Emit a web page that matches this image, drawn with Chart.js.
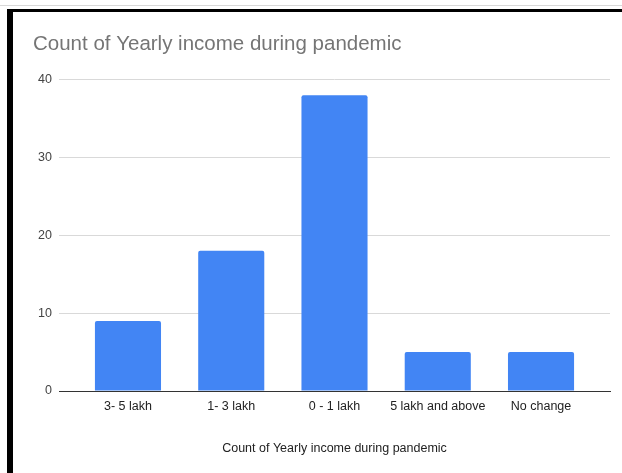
<!DOCTYPE html>
<html>
<head>
<meta charset="utf-8">
<script src="https://cdn.jsdelivr.net/npm/chart.js@4"></script>
<style>
  html, body { margin: 0; padding: 0; background: #fff; }
  body { width: 622px; height: 473px; position: relative; overflow: hidden; }
  #topline { position: absolute; left: 0; top: 5px; width: 622px; height: 1px; background: #d8d8d8; }
  #frame { position: absolute; left: 7px; top: 9px; width: 615px; height: 464px;
           border-top: 3px solid #000; border-left: 6px solid #000; box-sizing: border-box; }
  #wrap { position: absolute; left: 13px; top: 12px; width: 609px; height: 461px; }
</style>
</head>
<body>
<div id="topline"></div>
<div id="frame"></div>
<div id="wrap"><canvas id="barchart"></canvas></div>
<script>
const categories = ['3- 5 lakh', '1- 3 lakh', '0 - 1 lakh', '5 lakh and above', 'No change'];
const counts = [9, 18, 38, 5, 5];
const yTicks = [0, 10, 20, 30, 40];

const font = { family: 'Liberation Sans, Arial, sans-serif', size: 12.5 };

const ctx = document.getElementById('barchart');
const barchart = new Chart(ctx, {
  type: 'bar',
  data: {
    datasets: [{
      label: 'Count of Yearly income during pandemic',
      data: counts.map((v, i) => ({ x: i, y: v })),
      backgroundColor: '#4285f4',
      borderRadius: { topLeft: 2, topRight: 2 },
      borderSkipped: 'bottom',
      barPercentage: 0.64,
      categoryPercentage: 1
    }]
  },
  options: {
    responsive: true,
    maintainAspectRatio: false,
    animation: false,
    layout: { padding: { left: 20, right: 12, top: 0, bottom: 7 } },
    plugins: {
      legend: { display: false },
      tooltip: { enabled: false },
      title: {
        display: true,
        text: 'Count of Yearly income during pandemic',
        align: 'start',
        color: '#757575',
        font: { family: 'Liberation Sans, Arial, sans-serif', size: 20.5, weight: 'normal' },
        padding: { top: 20, bottom: 23 }
      }
    },
    scales: {
      x: {
        type: 'linear',
        offset: false,
        min: -0.668,
        max: categories.length - 1 + 0.668,
        afterBuildTicks: (scale) => { scale.ticks = categories.map((c, i) => ({ value: i })); },
        grid: { display: false, drawTicks: false },
        border: { display: true, color: '#333333', width: 1 },
        ticks: {
          color: '#222222',
          padding: 8,
          maxRotation: 0,
          autoSkip: false,
          font: font,
          callback: (v) => categories[v]
        },
        title: {
          display: true,
          text: 'Count of Yearly income during pandemic',
          color: '#222222',
          font: font,
          padding: { top: 19, bottom: 10 }
        }
      },
      y: {
        min: 0,
        max: 40,
        afterBuildTicks: (scale) => { scale.ticks = yTicks.map(v => ({ value: v })); },
        afterFit: (scale) => { scale.width = 26; },
        grid: { color: '#d9d9d9', drawTicks: false },
        border: { display: false },
        ticks: {
          color: '#444444',
          padding: 7,
          font: font
        }
      }
    }
  }
});
</script>
</body>
</html>
